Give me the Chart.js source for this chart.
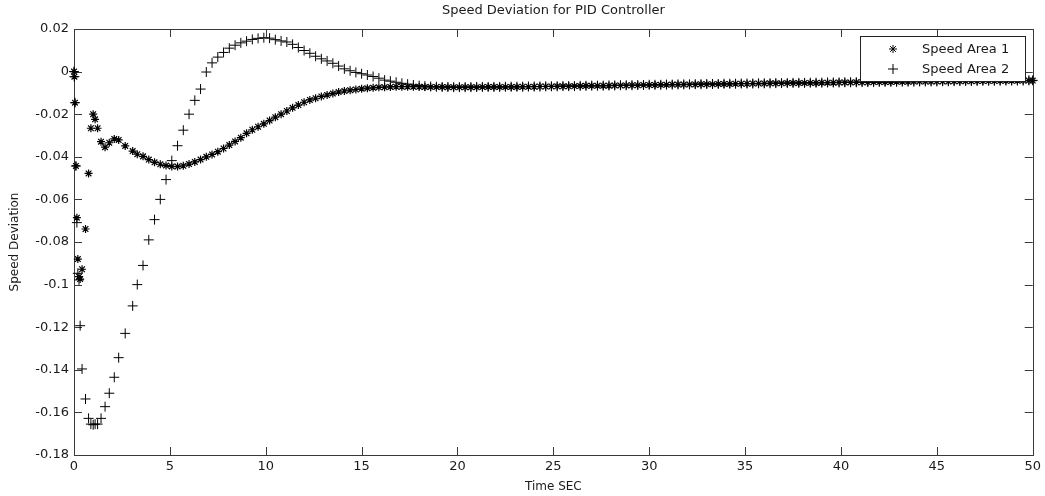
<!DOCTYPE html>
<html>
<head>
<meta charset="utf-8">
<title>Speed Deviation for PID Controller</title>
<script src="https://cdn.jsdelivr.net/npm/chart.js@4.4.0/dist/chart.umd.min.js"></script>
<style>
  html, body { margin: 0; padding: 0; background: #fff; }
  canvas { display: block; }
</style>
</head>
<body>
<canvas id="speedChart" width="1045" height="496"></canvas>
<script>
// time samples (s) - variable steps at the start, then roughly even
const timeSec = [
  0, 0.02, 0.05, 0.1, 0.15, 0.2, 0.26, 0.32, 0.42, 0.6,
  0.76, 0.88, 1.0, 1.1, 1.23, 1.41, 1.62, 1.84, 2.1, 2.33,
  2.67, 3.06,
  3.3, 3.6, 3.9, 4.2, 4.5, 4.8, 5.1, 5.4, 5.7, 6.0,
  6.3, 6.6, 6.9, 7.2, 7.5, 7.8, 8.1, 8.4, 8.7, 9.0,
  9.3, 9.6, 9.9, 10.2, 10.5, 10.8, 11.1, 11.4, 11.7, 12.0,
  12.3, 12.6, 12.9, 13.2, 13.5, 13.8, 14.1, 14.4, 14.7, 15.0,
  15.3, 15.6, 15.9, 16.2, 16.5, 16.8, 17.1, 17.4, 17.7, 18.0,
  18.3, 18.6, 18.9, 19.2, 19.5, 19.8,
  20.1, 20.4, 20.7, 21.0, 21.3, 21.6, 21.9, 22.2, 22.5, 22.8,
  23.1, 23.4, 23.7, 24.0, 24.3, 24.6, 24.9, 25.2, 25.5, 25.8,
  26.1, 26.4, 26.7, 27.0, 27.3, 27.6, 27.9, 28.2, 28.5, 28.8,
  29.1, 29.4, 29.7, 30.0, 30.3, 30.6, 30.9, 31.2, 31.5, 31.8,
  32.1, 32.4, 32.7, 33.0, 33.3, 33.6, 33.9, 34.2, 34.5, 34.8,
  35.1, 35.4, 35.7, 36.0, 36.3, 36.6, 36.9, 37.2, 37.5, 37.8,
  38.1, 38.4, 38.7, 39.0, 39.3, 39.6, 39.9, 40.2, 40.5, 40.8,
  41.1, 41.4, 41.7, 42.0, 42.3, 42.6, 42.9, 43.2, 43.5, 43.8,
  44.1, 44.4, 44.7, 45.0, 45.3, 45.6, 45.9, 46.2, 46.5, 46.8,
  47.1, 47.4, 47.7, 48.0, 48.3, 48.6, 48.9, 49.2, 49.5, 49.8, 50.0
];

// Speed Area 1 ('*' markers)
const speedArea1 = [
  0, -0.0024, -0.0146, -0.0443, -0.0686, -0.0880, -0.0963, -0.0974, -0.0928, -0.0739,
  -0.0478, -0.0266, -0.0200, -0.0224, -0.0266, -0.0329, -0.0355, -0.0334, -0.0316, -0.0321,
  -0.0349, -0.0373,
  -0.0388, -0.0398, -0.0413, -0.0426, -0.0435, -0.0441, -0.0445, -0.0446, -0.0442, -0.0434,
  -0.0424, -0.0413, -0.0400, -0.0389, -0.0376, -0.0361, -0.0345, -0.0328, -0.0310, -0.0290,
  -0.0273, -0.0259, -0.0245, -0.0230, -0.0214, -0.0200, -0.0185, -0.0170, -0.0157, -0.0144,
  -0.0133, -0.0125, -0.0117, -0.0110, -0.0103, -0.0096, -0.0091, -0.0087, -0.0084, -0.0081,
  -0.0078, -0.0076, -0.0074, -0.0073, -0.0072, -0.0071, -0.0071, -0.0071, -0.0071, -0.0071,
  -0.0072, -0.0072, -0.0072, -0.0072, -0.0073, -0.0073,
  -0.0073, -0.0073, -0.0073, -0.0073, -0.0072, -0.0072, -0.0072, -0.0072, -0.0072, -0.0072,
  -0.0072, -0.0071, -0.0071, -0.0071, -0.0070, -0.0070, -0.0070, -0.0069, -0.0069, -0.0069,
  -0.0068, -0.0068, -0.0067, -0.0067, -0.0067, -0.0066, -0.0066, -0.0065, -0.0065, -0.0065,
  -0.0064, -0.0064, -0.0063, -0.0063, -0.0063, -0.0062, -0.0062, -0.0061, -0.0061, -0.0061,
  -0.0060, -0.0060, -0.0059, -0.0059, -0.0059, -0.0058, -0.0058, -0.0058, -0.0057, -0.0057,
  -0.0057, -0.0056, -0.0056, -0.0056, -0.0055, -0.0055, -0.0055, -0.0054, -0.0054, -0.0054,
  -0.0053, -0.0053, -0.0053, -0.0052, -0.0052, -0.0052, -0.0051, -0.0051, -0.0051, -0.0050,
  -0.0050, -0.0050, -0.0049, -0.0049, -0.0049, -0.0049, -0.0048, -0.0048, -0.0048, -0.0047,
  -0.0047, -0.0047, -0.0047, -0.0046, -0.0046, -0.0046, -0.0045, -0.0045, -0.0045, -0.0045,
  -0.0044, -0.0044, -0.0044, -0.0044, -0.0043, -0.0043, -0.0043, -0.0043, -0.0042, -0.0042, -0.0042
];

// Speed Area 2 ('+' markers)
const speedArea2 = [
  0, -0.0024, -0.0146, -0.0443, -0.0709, -0.0947, -0.0978, -0.1193, -0.1396, -0.1537,
  -0.1628, -0.1655, -0.1658, -0.1655, -0.1655, -0.1628, -0.1573, -0.1510, -0.1435, -0.1343,
  -0.1229, -0.1100,
  -0.1000, -0.0910, -0.0790, -0.0695, -0.0600, -0.0507, -0.0418, -0.0348, -0.0275, -0.0200,
  -0.0135, -0.0082, -0.0002, 0.0041, 0.0068, 0.0090, 0.0110, 0.0124, 0.0135, 0.0143,
  0.0151, 0.0156, 0.0159, 0.0157, 0.0150, 0.0144, 0.0139, 0.0128, 0.0113, 0.0099,
  0.0086, 0.0072, 0.0060, 0.0050, 0.0039, 0.0026, 0.0013, 0.0004, -0.0004, -0.0010,
  -0.0016, -0.0023, -0.0031, -0.0040, -0.0045, -0.0050, -0.0055, -0.0059, -0.0063, -0.0066,
  -0.0068, -0.0070, -0.0071, -0.0072, -0.0072, -0.0073,
  -0.0073, -0.0073, -0.0073, -0.0072, -0.0072, -0.0072, -0.0072, -0.0072, -0.0071, -0.0071,
  -0.0071, -0.0071, -0.0070, -0.0070, -0.0070, -0.0069, -0.0069, -0.0069, -0.0068, -0.0068,
  -0.0068, -0.0067, -0.0067, -0.0066, -0.0066, -0.0066, -0.0065, -0.0065, -0.0064, -0.0064,
  -0.0064, -0.0063, -0.0063, -0.0062, -0.0062, -0.0062, -0.0061, -0.0061, -0.0060, -0.0060,
  -0.0060, -0.0059, -0.0059, -0.0058, -0.0058, -0.0058, -0.0057, -0.0057, -0.0057, -0.0056,
  -0.0056, -0.0056, -0.0055, -0.0055, -0.0055, -0.0054, -0.0054, -0.0054, -0.0053, -0.0053,
  -0.0053, -0.0052, -0.0052, -0.0052, -0.0051, -0.0051, -0.0051, -0.0050, -0.0050, -0.0050,
  -0.0049, -0.0049, -0.0049, -0.0048, -0.0048, -0.0048, -0.0048, -0.0047, -0.0047, -0.0047,
  -0.0046, -0.0046, -0.0046, -0.0046, -0.0045, -0.0045, -0.0045, -0.0044, -0.0044, -0.0044,
  -0.0044, -0.0043, -0.0043, -0.0043, -0.0043, -0.0042, -0.0042, -0.0042, -0.0042, -0.0041, -0.0041
];

const seriesNames = ['Speed Area 1', 'Speed Area 2'];
const xTickValues = [0, 5, 10, 15, 20, 25, 30, 35, 40, 45, 50];
const yTickValues = [-0.18, -0.16, -0.14, -0.12, -0.1, -0.08, -0.06, -0.04, -0.02, 0, 0.02];

const FONT = 'DejaVu Sans';
const TEXT = '#1a1a1a';
const AXIS = '#3a3a3a';

// matlab style box with ticks pointing inwards on all four sides
const matlabAxes = {
  id: 'matlabAxes',
  beforeDatasetsDraw(chart) {
    const { ctx, chartArea: a, scales } = chart;
    const len = 8;
    ctx.save();
    ctx.strokeStyle = AXIS;
    ctx.lineWidth = 1;
    ctx.strokeRect(Math.round(a.left) + 0.5, Math.round(a.top) + 0.5,
      Math.round(a.right - a.left), Math.round(a.bottom - a.top));
    ctx.beginPath();
    xTickValues.forEach((v) => {
      const px = Math.round(scales.x.getPixelForValue(v)) + 0.5;
      ctx.moveTo(px, a.bottom); ctx.lineTo(px, a.bottom - len);
      ctx.moveTo(px, a.top); ctx.lineTo(px, a.top + len);
    });
    yTickValues.forEach((v) => {
      const py = Math.round(scales.y.getPixelForValue(v)) + 0.5;
      ctx.moveTo(a.left, py); ctx.lineTo(a.left + len, py);
      ctx.moveTo(a.right, py); ctx.lineTo(a.right - len, py);
    });
    ctx.stroke();
    ctx.restore();
  }
};

// legend box in the upper right corner, drawn over the data
const matlabLegend = {
  id: 'matlabLegend',
  afterDatasetsDraw(chart) {
    const { ctx, chartArea: a } = chart;
    const w = 165, h = 45;
    const x0 = Math.round(a.right) - 8 - w;
    const y0 = Math.round(a.top) + 7;
    ctx.save();
    ctx.fillStyle = '#fff';
    ctx.fillRect(x0, y0, w, h);
    ctx.strokeStyle = '#222';
    ctx.lineWidth = 1;
    ctx.strokeRect(x0 + 0.5, y0 + 0.5, w, h);
    chart.data.datasets.forEach((ds, i) => {
      const cy = y0 + 13 + i * 20;
      ctx.strokeStyle = '#000';
      ctx.fillStyle = '#000';
      ctx.lineWidth = 1;
      Chart.helpers.drawPoint(ctx, {
        pointStyle: ds.pointStyle, radius: ds.pointRadius, borderWidth: 1, rotation: 0
      }, x0 + 33, cy);
      ctx.fillStyle = TEXT;
      ctx.font = '13px "' + FONT + '"';
      ctx.textAlign = 'left';
      ctx.textBaseline = 'middle';
      ctx.fillText(ds.label, x0 + 62, cy + 1);
    });
    ctx.restore();
  }
};

const area1Points = timeSec.map((t, i) => ({ x: t, y: speedArea1[i] }));
const area2Points = timeSec.map((t, i) => ({ x: t, y: speedArea2[i] }));

const ctx = document.getElementById('speedChart').getContext('2d');
new Chart(ctx, {
  type: 'scatter',
  data: {
    datasets: [
      {
        label: seriesNames[0],
        data: area1Points,
        pointStyle: 'star',
        pointRadius: 4,
        borderWidth: 1.2,
        borderColor: '#000',
        backgroundColor: '#000',
        showLine: false,
        clip: false,
      },
      {
        label: seriesNames[1],
        data: area2Points,
        pointStyle: 'cross',
        pointRadius: 5,
        borderWidth: 1,
        borderColor: '#000',
        backgroundColor: '#000',
        showLine: false,
        clip: false,
      },
    ],
  },
  options: {
    responsive: false,
    animation: false,
    devicePixelRatio: 1,
    layout: { padding: { left: 0, right: 11, top: 0, bottom: 0 } },
    plugins: {
      legend: { display: false },
      tooltip: { enabled: false },
      title: {
        display: true,
        fullSize: false,
        text: 'Speed Deviation for PID Controller',
        color: TEXT,
        font: { family: FONT, size: 13, weight: 'normal', lineHeight: 1.2 },
        padding: { top: 3, bottom: 10.4 },
      },
    },
    scales: {
      x: {
        type: 'linear',
        min: 0,
        max: 50,
        afterBuildTicks: (scale) => { scale.ticks = xTickValues.map((v) => ({ value: v })); },
        afterFit: (scale) => { scale.height = 41; },
        grid: { display: false, drawTicks: false },
        border: { display: false },
        ticks: {
          color: TEXT,
          font: { family: FONT, size: 13 },
          padding: 4,
          maxRotation: 0,
          autoSkip: false,
          callback: (v) => String(v),
        },
        title: {
          display: true,
          text: 'Time SEC',
          color: TEXT,
          font: { family: FONT, size: 12, lineHeight: 1.2 },
          padding: { top: 0, bottom: 2 },
        },
      },
      y: {
        type: 'linear',
        min: -0.18,
        max: 0.02,
        afterBuildTicks: (scale) => { scale.ticks = yTickValues.map((v) => ({ value: v })); },
        afterFit: (scale) => { scale.width = 74; },
        grid: { display: false, drawTicks: false },
        border: { display: false },
        ticks: {
          color: TEXT,
          font: { family: FONT, size: 13 },
          padding: 5,
          autoSkip: false,
          callback: (v) => {
            const r = Math.round(v * 100) / 100;
            return r === 0 ? '0' : String(r);
          },
        },
        title: {
          display: true,
          text: 'Speed Deviation',
          color: TEXT,
          font: { family: FONT, size: 12, lineHeight: 1.2 },
          padding: { top: 8, bottom: 0 },
        },
      },
    },
  },
  plugins: [matlabAxes, matlabLegend],
});
</script>
</body>
</html>
